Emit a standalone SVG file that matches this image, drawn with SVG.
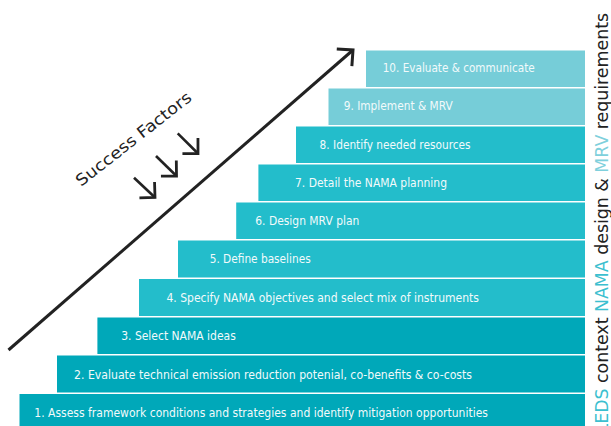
<svg xmlns="http://www.w3.org/2000/svg" width="611" height="426" viewBox="0 0 611 426">
<defs>
<style>
.light{fill:#76CDD8}
.mid{fill:#23BDCB}
.dark{fill:#00A8B9}
.lbl{font-family:"Liberation Sans Narrow","DejaVu Sans Condensed","Liberation Sans",sans-serif;font-size:12.5px;fill:#F2FAFB}
.ln{stroke:#222;fill:none;stroke-width:3}
.sm{stroke:#222;fill:none;stroke-width:2.6}
.sf{font-family:"DejaVu Sans","Liberation Sans",sans-serif;font-size:16px;fill:#222}
.vt{font-family:"DejaVu Sans","Liberation Sans",sans-serif;font-size:17.5px;fill:#222}
.tl{fill:#3CBFCF}
.tll{fill:#7FD0DC}
</style>
<marker id="chev" markerUnits="userSpaceOnUse" markerWidth="30" markerHeight="30" refX="0" refY="0" orient="auto" overflow="visible">
<path d="M-11,-11 L0,0 L-11,11" fill="none" stroke="#222" stroke-width="2.8"/>
</marker>
<marker id="chevBig" markerUnits="userSpaceOnUse" markerWidth="30" markerHeight="30" refX="0" refY="0" orient="auto" overflow="visible">
<path d="M-11.5,-11.5 L0,0 L-11.5,11.5" fill="none" stroke="#222" stroke-width="3"/>
</marker>
</defs>
<rect width="611" height="426" fill="#fff"/>
<g id="step10"><rect class="light" x="366" y="50.5" width="219" height="36.5"/><text class="lbl" x="382.7" y="71.5" textLength="152" lengthAdjust="spacingAndGlyphs">10. Evaluate &amp; communicate</text></g>
<g id="step9"><rect class="light" x="328.5" y="88.5" width="256.5" height="36.5"/><text class="lbl" x="343.7" y="110" textLength="109" lengthAdjust="spacingAndGlyphs">9. Implement &amp; MRV</text></g>
<g id="step8"><rect class="mid" x="296" y="126.5" width="289" height="36.5"/><text class="lbl" x="319.6" y="149" textLength="151" lengthAdjust="spacingAndGlyphs">8. Identify needed resources</text></g>
<g id="step7"><rect class="mid" x="258.4" y="164.5" width="326.6" height="36.5"/><text class="lbl" x="295" y="187" textLength="152" lengthAdjust="spacingAndGlyphs">7. Detail the NAMA planning</text></g>
<g id="step6"><rect class="mid" x="236.2" y="202.5" width="348.8" height="36.5"/><text class="lbl" x="255.3" y="225" textLength="104" lengthAdjust="spacingAndGlyphs">6. Design MRV plan</text></g>
<g id="step5"><rect class="mid" x="178" y="240.5" width="407" height="37"/><text class="lbl" x="209.7" y="263" textLength="101" lengthAdjust="spacingAndGlyphs">5. Define baselines</text></g>
<g id="step4"><rect class="mid" x="139" y="279" width="446" height="37"/><text class="lbl" x="166.4" y="302" textLength="312.6" lengthAdjust="spacingAndGlyphs">4. Specify NAMA objectives and select mix of instruments</text></g>
<g id="step3"><rect class="dark" x="97.4" y="317.5" width="487.6" height="36.5"/><text class="lbl" x="121.2" y="340" textLength="114.6" lengthAdjust="spacingAndGlyphs">3. Select NAMA ideas</text></g>
<g id="step2"><rect class="dark" x="57" y="355.5" width="528" height="37"/><text class="lbl" x="74" y="378.5" textLength="398" lengthAdjust="spacingAndGlyphs">2. Evaluate technical emission reduction potenial, co-benefits &amp; co-costs</text></g>
<g id="step1"><rect class="dark" x="19.5" y="394" width="565.5" height="32"/><text class="lbl" x="34.3" y="417" textLength="453.7" lengthAdjust="spacingAndGlyphs">1. Assess framework conditions and strategies and identify mitigation opportunities</text></g>
<g id="connectors">
<line class="ln" x1="8.5" y1="350" x2="353" y2="50" marker-end="url(#chevBig)"/>
<line class="sm" x1="177.7" y1="133.3" x2="198" y2="153.5" marker-end="url(#chev)"/>
<line class="sm" x1="156" y1="156" x2="176.5" y2="176" marker-end="url(#chev)"/>
<line class="sm" x1="134" y1="177.7" x2="155" y2="197.5" marker-end="url(#chev)"/>
</g>
<g id="success-factors"><text class="sf" x="81" y="187" transform="rotate(-38 81 187)" textLength="142" lengthAdjust="spacingAndGlyphs">Success Factors</text></g>
<g id="side-label"><text class="vt" x="608" y="433.5" transform="rotate(-90 608 433.5)" textLength="420.5" lengthAdjust="spacingAndGlyphs"><tspan class="tl">LEDS</tspan> context <tspan class="tl">NAMA</tspan> design &amp; <tspan class="tll">MRV</tspan> requirements</text></g>
</svg>
